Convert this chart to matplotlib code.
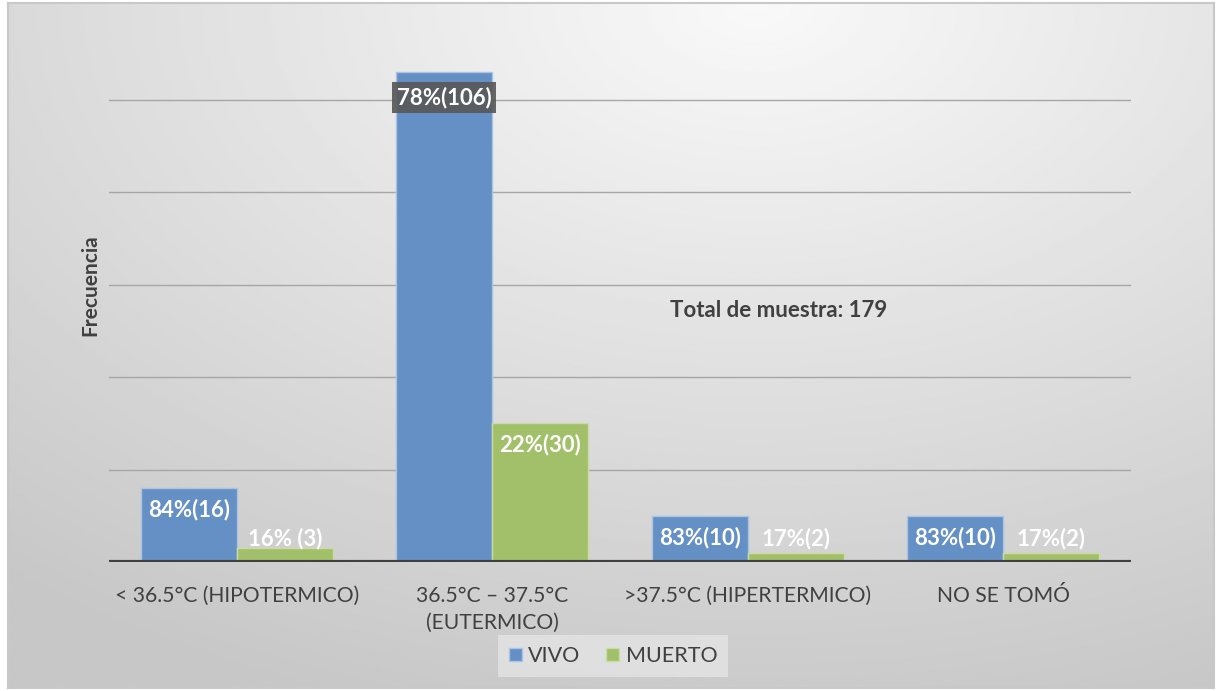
"""Frecuencia de VIVO / MUERTO según temperatura al ingreso."""

import matplotlib.pyplot as plt
import numpy as np
from matplotlib.patches import Rectangle

CATEGORIES = [
    "< 36.5°C (HIPOTERMICO)",
    "36.5°C – 37.5°C\n(EUTERMICO)",
    ">37.5°C (HIPERTERMICO)",
    "NO SE TOMÓ",
]
VIVO = [16, 106, 10, 10]
MUERTO = [3, 30, 2, 2]
VIVO_LABELS = ["84%(16)", "78%(106)", "83%(10)", "83%(10)"]
MUERTO_LABELS = ["16% (3)", "22%(30)", "17%(2)", "17%(2)"]

BLUE = "#6590C5"
GREEN = "#A2C06A"
TEXT = "#404040"

plt.rcParams["font.family"] = ["Lato", "DejaVu Sans"]

fig = plt.figure(figsize=(12.22, 6.91), dpi=100)
fig.patch.set_facecolor("white")

# fondo con degradado gris
bg = fig.add_axes([0.0065, 0.005, 0.987, 0.99], zorder=-5)
yy, xx = np.mgrid[0:1:300j, 0:1:500j]
dist = np.sqrt(((xx - 0.62) * 1.0) ** 2 + ((yy - 0.0) * 0.9) ** 2)
shade = np.clip(0.975 - 0.2 * dist, 0.78, 1.0)
bg.imshow(shade, cmap="gray", vmin=0, vmax=1, aspect="auto", extent=[0, 1, 1, 0])
bg.set_xticks([])
bg.set_yticks([])
for spine in bg.spines.values():
    spine.set_color("#c8c8c8")
    spine.set_linewidth(1.5)

ax = fig.add_axes([0.0892, 0.1867, 0.8363, 0.8023])
ax.set_facecolor("none")

x = np.arange(len(CATEGORIES))
width = 0.376
bars_v = ax.bar(x - width / 2, VIVO, width, color=BLUE, edgecolor="#a9c3e4",
                linewidth=1.0, label="VIVO", zorder=3)
bars_m = ax.bar(x + width / 2, MUERTO, width, color=GREEN, edgecolor="#c9dca5",
                linewidth=1.0, label="MUERTO", zorder=3)

ax.set_xlim(-0.5, 3.5)
ax.set_ylim(0, 120)
for level in [20, 40, 60, 80, 100]:
    ax.axhline(level, color="#a6a6a6", linewidth=1.0, zorder=1)
ax.axhline(0, color="#404040", linewidth=3.0, zorder=4)

for spine in ax.spines.values():
    spine.set_visible(False)
ax.set_yticks([])
ax.set_xticks(x)
ax.set_xticklabels(CATEGORIES, fontsize=15.2, color=TEXT, linespacing=1.45)
ax.tick_params(axis="x", length=0, pad=17)

ax.set_ylabel("Frecuencia", fontsize=15, fontweight="bold", color=TEXT, labelpad=6)

label_kw = dict(ha="center", va="center", color="white", fontsize=16,
                fontweight="bold", zorder=5)

for i, (bar, text) in enumerate(zip(bars_v, VIVO_LABELS)):
    top = bar.get_height()
    cx = bar.get_x() + bar.get_width() / 2
    if i == 1:
        ax.text(cx, top - 5.5, text,
                bbox=dict(boxstyle="square,pad=0.22", facecolor="#595959",
                          edgecolor="none", alpha=0.92), **label_kw)
    else:
        ax.text(cx, top - 4.6, text, **label_kw)

for i, (bar, text) in enumerate(zip(bars_m, MUERTO_LABELS)):
    top = bar.get_height()
    cx = bar.get_x() + bar.get_width() / 2
    if i == 1:
        ax.text(cx, top - 4.6, text, **label_kw)
    else:
        ax.text(cx, 5.1, text, **label_kw)

ax.text(2.12, 54.5, "Total de muestra: 179", ha="center", va="center",
        fontsize=16, fontweight="bold", color=TEXT)

legend = fig.legend(
    handles=[Rectangle((0, 0), 1, 1, facecolor=BLUE, edgecolor="#a9c3e4"),
             Rectangle((0, 0), 1, 1, facecolor=GREEN, edgecolor="#c9dca5")],
    labels=["VIVO", "MUERTO"],
    loc="center", bbox_to_anchor=(613 / 1222, 1 - 656 / 691),
    ncols=2, fontsize=15.5, frameon=True, fancybox=False,
    handlelength=0.6, handleheight=0.6, handletextpad=0.3, columnspacing=1.2,
    borderpad=0.5,
)
legend.get_frame().set_facecolor("#e4e4e4")
legend.get_frame().set_edgecolor("none")
for t in legend.get_texts():
    t.set_color(TEXT)

fig.savefig("out.png", dpi=100)
